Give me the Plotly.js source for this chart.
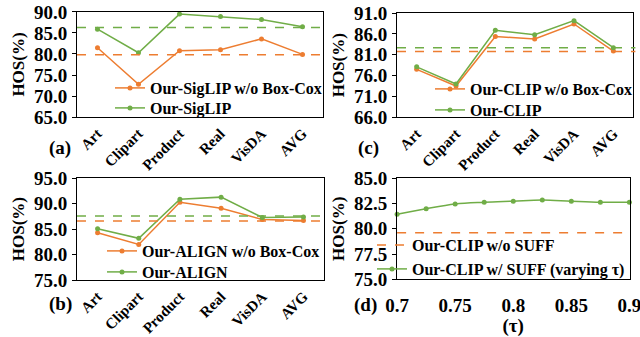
<!DOCTYPE html>
<html><head><meta charset="utf-8">
<script src="https://cdn.plot.ly/plotly-3.0.1.min.js"></script>
<style>html,body{margin:0;padding:0;background:#fff}#chart{width:640px;height:337px}</style>
</head><body><div id="chart"></div>
<script>
const categories = ['Art','Clipart','Product','Real','VisDA','AVG'];
// (a) SigLIP
const siglipNoBC = [81.5, 72.8, 80.8, 81.0, 83.6, 79.9];
const siglip     = [85.9, 80.3, 89.5, 88.9, 88.2, 86.5];
const siglipNoBCAvg = 79.8;
const siglipAvg = 86.3;
// (b) ALIGN
const alignNoBC = [84.3, 82.0, 90.3, 89.1, 86.9, 86.7];
const align     = [85.1, 83.2, 90.9, 91.3, 87.3, 87.4];
const alignNoBCAvg = 86.6;
const alignAvg = 87.6;
// (c) CLIP
const clipNoBC = [77.5, 73.5, 85.4, 84.8, 88.4, 81.9];
const clip     = [78.1, 74.0, 86.9, 85.8, 89.2, 82.7];
const clipNoBCAvg = 81.8;
const clipAvg = 82.7;
// (d) SUFF tau sweep
const tau = [0.7, 0.725, 0.75, 0.775, 0.8, 0.825, 0.85, 0.875, 0.9];
const clipSuff = [81.44, 81.99, 82.45, 82.63, 82.74, 82.85, 82.73, 82.63, 82.63];
const clipNoSuff = 79.6;

const ORANGE = '#ED7D31', GREEN = '#70AD47';
const FAM = 'Liberation Serif, Times New Roman, serif';
const tickFont = {family: FAM, size: 19, color: '#000', weight: 'bold'};
const catFont = {family: FAM, size: 15, color: '#000', weight: 'bold'};
const legFont = {family: FAM, size: 16, color: '#000', weight: 'bold'};
const titleFont = {family: FAM, size: 17, color: '#000', weight: 'bold'};

function lineTrace(x, y, name, color, xa, ya, leg, spline) {
  return {x: x, y: y, name: name, type: 'scatter', mode: 'lines+markers',
    line: {color: color, width: 1.5, shape: spline ? 'spline' : 'linear'},
    marker: {color: color, size: 5}, xaxis: xa, yaxis: ya, legend: leg, cliponaxis: false};
}

const data = [
  lineTrace(categories, siglipNoBC, 'Our-SigLIP w/o Box-Cox', ORANGE, 'x', 'y', 'legend'),
  lineTrace(categories, siglip, 'Our-SigLIP', GREEN, 'x', 'y', 'legend2'),
  lineTrace(categories, clipNoBC, 'Our-CLIP w/o Box-Cox', ORANGE, 'x2', 'y2', 'legend3'),
  lineTrace(categories, clip, 'Our-CLIP', GREEN, 'x2', 'y2', 'legend4'),
  lineTrace(categories, alignNoBC, 'Our-ALIGN w/o Box-Cox', ORANGE, 'x3', 'y3', 'legend5'),
  lineTrace(categories, align, 'Our-ALIGN', GREEN, 'x3', 'y3', 'legend6'),
  {x: [tau[0], tau[tau.length - 1]], y: [clipNoSuff, clipNoSuff], name: 'Our-CLIP w/o SUFF',
   type: 'scatter', mode: 'lines', line: {color: ORANGE, width: 1.5, dash: 'dash'},
   xaxis: 'x4', yaxis: 'y4', legend: 'legend7', cliponaxis: false},
  lineTrace(tau, clipSuff, 'Our-CLIP w/ SUFF (varying τ)', GREEN, 'x4', 'y4', 'legend8', true)
];

function hline(val, color, xa, ya) {
  return {type: 'line', xref: xa + ' domain', x0: 0, x1: 1.01, yref: ya, y0: val, y1: val,
    line: {color: color, width: 1.5, dash: 'dash'}};
}

function xCat(dom, anchor) {
  return {domain: dom, anchor: anchor, type: 'category', range: [-0.5, 5.5], tickangle: -45,
    showline: true, mirror: true, linecolor: '#000', linewidth: 1, ticks: '', showgrid: false,
    tickfont: catFont, ticklabelstandoff: 1};
}
function yNum(dom, anchor, range, dtick) {
  return {domain: dom, anchor: anchor, range: range, tick0: range[0], dtick: dtick, tickformat: '.1f',
    showline: true, mirror: true, linecolor: '#000', linewidth: 1, ticks: 'outside', ticklen: 4,
    tickcolor: '#000', showgrid: false, zeroline: false, tickfont: tickFont, ticklabelstandoff: 1,
    title: {text: 'HOS(%)', font: titleFont, standoff: 4}};
}
// one single-entry legend per row, placed at the row centre (pixels)
function leg(px, py) {
  return {x: px / 640, y: 1 - py / 337, xanchor: 'left', yanchor: 'middle', bgcolor: 'rgba(0,0,0,0)',
    font: legFont, itemwidth: 30};
}
function panelLabel(txt, x, y) {
  return {text: txt, xref: 'paper', yref: 'paper', x: x / 640, y: 1 - y / 337, showarrow: false,
    font: {family: FAM, size: 19, color: '#000', weight: 'bold'}};
}

const layout = {
  width: 640, height: 337, margin: {l: 0, r: 0, t: 0, b: 0},
  paper_bgcolor: '#fff', plot_bgcolor: '#fff',
  xaxis: xCat([0.1203, 0.5047], 'y'),
  yaxis: yNum([0.6528, 0.9644], 'x', [65, 90], 5),
  xaxis2: xCat([0.6203, 0.9891], 'y2'),
  yaxis2: yNum([0.652, 0.961], 'x2', [66, 91], 5),
  xaxis3: xCat([0.1203, 0.5063], 'y3'),
  yaxis3: yNum([0.1691, 0.4709], 'x3', [75, 95], 5),
  xaxis4: {domain: [0.6203, 0.9836], anchor: 'y4', range: [0.6999, 0.9001], tick0: 0.7, dtick: 0.05,
    showline: true, mirror: true, linecolor: '#000', linewidth: 1, ticks: '', showgrid: false,
    zeroline: false, tickfont: tickFont, ticklabelstandoff: 9, ticklabeloverflow: 'allow',
    title: {text: '(τ)', font: {family: FAM, size: 19, color: '#000', weight: 'bold'}, standoff: 2}},
  yaxis4: yNum([0.1712, 0.4709], 'x4', [75, 85], 2.5),
  shapes: [
    hline(siglipNoBCAvg, ORANGE, 'x', 'y'), hline(siglipAvg, GREEN, 'x', 'y'),
    hline(clipNoBCAvg, ORANGE, 'x2', 'y2'), hline(clipAvg, GREEN, 'x2', 'y2'),
    hline(alignNoBCAvg, ORANGE, 'x3', 'y3'), hline(alignAvg, GREEN, 'x3', 'y3')
  ],
  legend: leg(110, 88),
  legend2: leg(110, 108),
  legend3: leg(430, 89),
  legend4: leg(430, 110),
  legend5: leg(102, 251),
  legend6: leg(102, 272),
  legend7: leg(372, 245),
  legend8: leg(372, 269),
  annotations: [
    panelLabel('(a)', 47, 148),
    panelLabel('(c)', 368, 148),
    panelLabel('(b)', 47, 317),
    panelLabel('(d)', 365, 318)
  ],
  showlegend: true
};

Plotly.newPlot('chart', data, layout, {displayModeBar: false, staticPlot: true});
</script>
</body></html>
